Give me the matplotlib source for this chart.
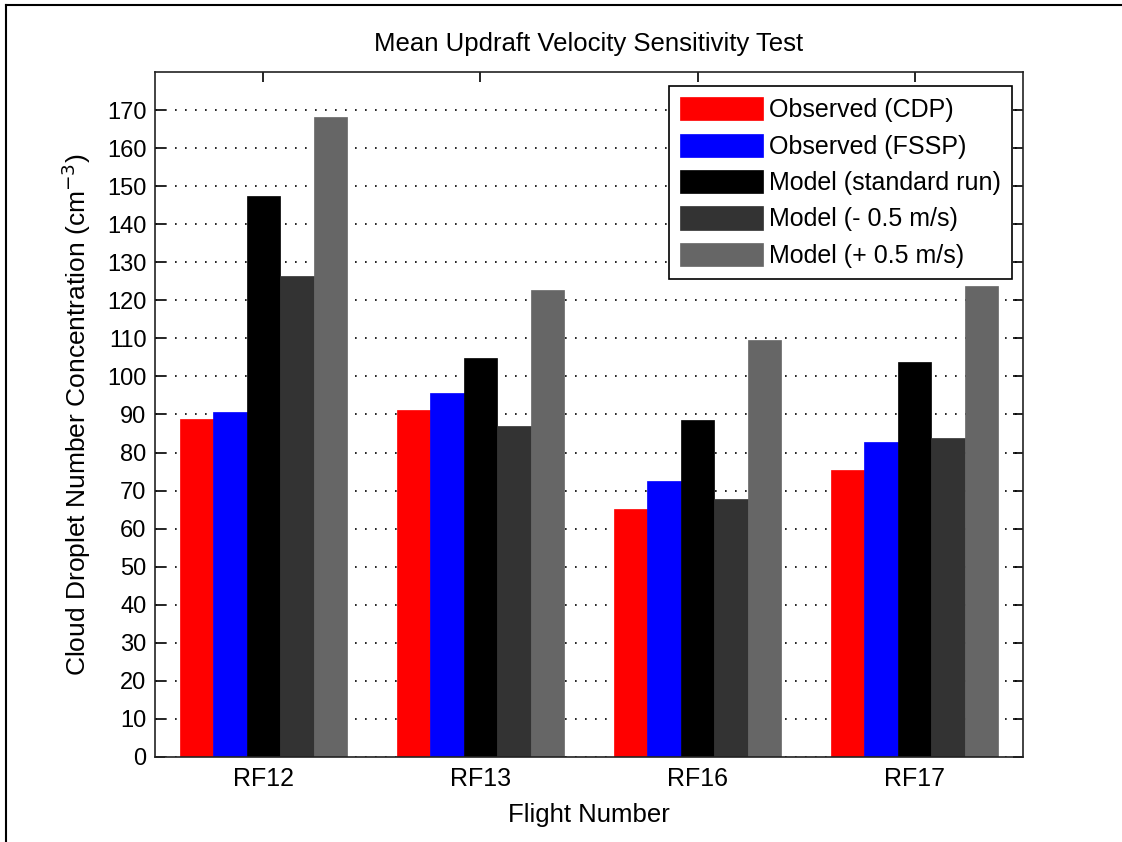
import matplotlib.pyplot as plt
import numpy as np
from matplotlib.lines import Line2D

plt.rcParams['font.family'] = ['Liberation Sans', 'DejaVu Sans']

flights = ['RF12', 'RF13', 'RF16', 'RF17']
obs_cdp = [88.7, 91.3, 65.1, 75.5]
obs_fssp = [90.7, 95.6, 72.4, 82.8]
model_std = [147.5, 104.9, 88.6, 103.9]
model_minus = [126.5, 87.1, 67.7, 83.9]
model_plus = [168.1, 122.8, 109.7, 123.8]

labels = ['Observed (CDP)', 'Observed (FSSP)', 'Model (standard run)',
          'Model (- 0.5 m/s)', 'Model (+ 0.5 m/s)']
colors = ['#ff0000', '#0000ff', '#000000', '#333333', '#666666']
series = [obs_cdp, obs_fssp, model_std, model_minus, model_plus]

fig = plt.figure(figsize=(11.22, 8.42), dpi=100)
ax = fig.add_axes([0.1381, 0.1010, 0.7737, 0.8135])

x = np.arange(1, len(flights) + 1)
w = 0.8 / 5.2
for i, (vals, c, lab) in enumerate(zip(series, colors, labels)):
    ax.bar(x + (i - 2) * w, vals, width=w, color=c, label=lab,
           edgecolor=c, linewidth=0.5, zorder=2)

ax.set_xlim(0.5, 4.5)
ax.set_ylim(0, 180)
ax.set_yticks(np.arange(0, 180, 10))
ax.set_xticks(x)
ax.set_xticklabels(flights)
ax.yaxis.grid(True, linestyle=(0, (1, 5)), color='black', linewidth=1.2, zorder=1)
ax.set_axisbelow(True)
ax.tick_params(direction='in', length=7, width=1.2, top=True, right=True,
               labelsize=18, pad=7)
ax.tick_params(axis='y', labelsize=17, pad=6)
for s in ax.spines.values():
    s.set_linewidth(1.2)
    s.set_color('#222222')

ax.set_title('Mean Updraft Velocity Sensitivity Test', fontsize=18.5, pad=15)
ax.set_xlabel('Flight Number', fontsize=18.5, labelpad=9)
ax.set_ylabel('Cloud Droplet Number Concentration (cm$^{-3}$)', fontsize=19,
              labelpad=10)

leg = ax.legend(loc='upper right', bbox_to_anchor=(0.9873, 0.9796), fontsize=18,
                handlelength=3.3, handleheight=1.05, labelspacing=0.45,
                handletextpad=0.25, borderpad=0.45, borderaxespad=0,
                fancybox=False, framealpha=1)
leg.get_frame().set_edgecolor('black')
leg.get_frame().set_linewidth(1.2)

# frame lines along the top and left of the figure
fig.add_artist(Line2D([6 / 1122, 1], [1 - 5 / 842, 1 - 5 / 842],
                      color='black', linewidth=1.5, transform=fig.transFigure))
fig.add_artist(Line2D([6 / 1122, 6 / 1122], [0, 1 - 5 / 842],
                      color='black', linewidth=1.5, transform=fig.transFigure))

fig.savefig('out.png', dpi=100)
